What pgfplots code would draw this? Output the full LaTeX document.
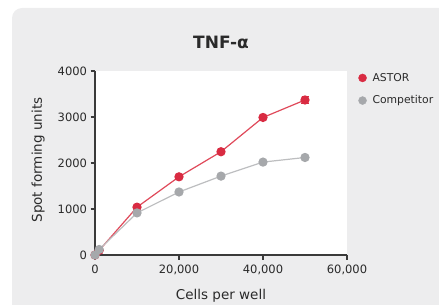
\documentclass[border=0pt]{standalone}
\usepackage{fontspec}
\setmainfont{DejaVu Sans}
\usepackage{pgfplots}
\pgfplotsset{compat=1.18}
\definecolor{panel}{HTML}{EDEDEE}
\definecolor{astor}{HTML}{D92B42}
\definecolor{astorline}{HTML}{E0495A}
\definecolor{comp}{HTML}{A6A8AB}
\definecolor{compline}{HTML}{BDBEC0}
\definecolor{axiscol}{HTML}{3A3A3A}
\definecolor{txt}{HTML}{2A2A2A}
\begin{document}
\begin{tikzpicture}
\useasboundingbox (0,0) rectangle (439bp,305bp);
\clip (0,0) rectangle (439bp,305bp);
\fill[panel, rounded corners=10bp] (12bp,-20bp) rectangle (470bp,297bp);
\node[font=\fontsize{17bp}{19bp}\selectfont\bfseries, text=txt] at (221bp,263bp) {TNF-α};
\begin{axis}[
  at={(95bp,50bp)}, anchor=south west,
  width=252bp, height=184bp, scale only axis,
  xmin=0, xmax=60000, ymin=0, ymax=4000,
  axis lines*=left,
  axis line style={axiscol, line width=1.5bp},
  axis background/.style={fill=white},
  xtick={0,20000,40000,60000},
  ytick={0,1000,2000,3000,4000},
  scaled x ticks=false,
  tick align=outside,
  major tick length=4.5bp,
  tick style={axiscol, line width=1.3bp},
  minor tick num=0,
  xticklabel shift=2bp,
  /pgf/number format/assume math mode=true,
  xticklabel style={/pgf/number format/1000 sep={,}, font=\fontsize{11.5bp}{13bp}\selectfont, text=txt},
  yticklabel style={/pgf/number format/1000 sep={}, font=\fontsize{11.5bp}{13bp}\selectfont, text=txt},
  xlabel={Cells per well},
  ylabel={Spot forming units},
  xlabel style={at={(axis description cs:0.5,-0.22)}, anchor=center, font=\fontsize{13.5bp}{15bp}\selectfont, text=txt},
  ylabel style={at={(axis description cs:-0.226,0.516)}, anchor=center, font=\fontsize{13.5bp}{15bp}\selectfont, text=txt},
  legend style={draw=none, fill=none, at={(axis description cs:1.045,1.0)}, anchor=north west,
    font=\fontsize{10.8bp}{13bp}\selectfont, text=txt, row sep=9bp, inner sep=0pt},
  /tikz/every odd column/.append style={column sep=4bp},
  legend cell align=left,
  legend image code/.code={\draw[#1] plot coordinates {(0bp,0bp)};},
  clip=false,
]
\addlegendimage{only marks, mark=*, mark size=4bp, color=astor}
\addlegendentry{ASTOR}
\addlegendimage{only marks, mark=*, mark size=4bp, color=comp}
\addlegendentry{Competitor}
\addplot[forget plot, color=astorline, line width=1.2bp, mark=*, mark size=4bp,
  mark options={fill=astor, draw=astor},
  error bars/.cd, y dir=both, y explicit, error bar style={astor, line width=1bp}, error mark options={rotate=90, mark size=3.5bp, astor}]
  coordinates {
  (0,0) +- (0,0)
  (1000,100) +- (0,0)
  (10000,1040) +- (0,0)
  (20000,1700) +- (0,0)
  (30000,2245) +- (0,0)
  (40000,2990) +- (0,0)
  (50000,3370) +- (0,80)
};
\addplot[forget plot, color=compline, line width=1.2bp, mark=*, mark size=4bp,
  mark options={fill=comp, draw=comp}]
  coordinates {
  (0,0)
  (1000,120)
  (10000,915)
  (20000,1370)
  (30000,1715)
  (40000,2020)
  (50000,2120)
};
\end{axis}
\end{tikzpicture}
\end{document}
